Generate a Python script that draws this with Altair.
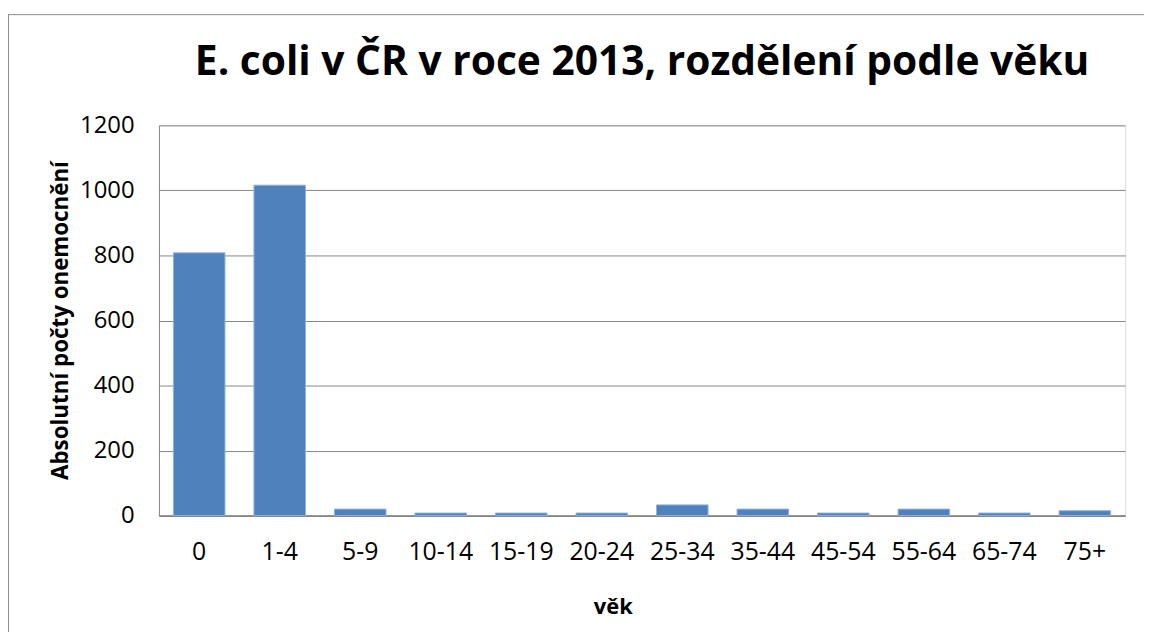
import altair as alt
import pandas as pd

ages = ["0", "1-4", "5-9", "10-14", "15-19", "20-24", "25-34", "35-44", "45-54", "55-64", "65-74", "75+"]
cases = [808, 1016, 20, 8, 8, 8, 33, 20, 8, 20, 8, 15]
y_ticks = [0, 200, 400, 600, 800, 1000, 1200]

title_text = "E. coli v ČR v roce 2013, rozdělení podle věku"
x_title = "věk"
y_title = "Absolutní počty onemocnění"

df = pd.DataFrame({"age": ages, "cases": cases})
FONT = "Open Sans"
GRAY = "#868686"

bars = alt.Chart(df).mark_bar(color="#4F81BD", stroke="#8fb1dc", strokeWidth=1).encode(
    x=alt.X("age:N", sort=ages, title=x_title,
            scale=alt.Scale(paddingInner=0.36, paddingOuter=0.18),
            axis=alt.Axis(labelAngle=0, ticks=False, tickSize=0, labelPadding=24,
                          labelFontSize=25, labelFont=FONT, labelColor="#000000",
                          domainColor=GRAY, domainWidth=2,
                          titleFont=FONT, titleFontSize=22, titleFontWeight="bold",
                          titleColor="#000000", titleX=457, titleY=99,
                          titleAlign="center", titleBaseline="alphabetic", grid=False)),
    y=alt.Y("cases:Q", title=y_title,
            scale=alt.Scale(domain=[0, 1200], nice=False),
            axis=alt.Axis(values=y_ticks, format="d", ticks=False, tickSize=0, labelPadding=25,
                          labelFontSize=24, labelFont=FONT, labelColor="#000000",
                          domainColor=GRAY, domainWidth=1,
                          gridColor=GRAY, gridWidth=1,
                          titleFont=FONT, titleFontSize=22.5, titleFontWeight="bold",
                          titleColor="#000000", titleX=-99, titleY=196, titleAngle=270,
                          titleAlign="center", titleBaseline="middle")),
)

frame_df = pd.DataFrame({"k": [0]})
frame_top = alt.Chart(frame_df).mark_rule(color="#8c8c8c", strokeWidth=1).encode(
    x=alt.value(-152), x2=alt.value(1100), y=alt.value(-111.5))
frame_left = alt.Chart(frame_df).mark_rule(color="#8c8c8c", strokeWidth=1).encode(
    x=alt.value(-151.5), y=alt.value(-112), y2=alt.value(600))

chart = alt.layer(frame_top, frame_left, bars).properties(
    width=973, height=393,
    title=alt.TitleParams(title_text, font=FONT, fontSize=41, fontWeight="bold",
                          color="#000000", anchor="middle", offset=0, dy=71),
    autosize=alt.AutoSizeParams(type="none"),
    padding={"left": 152, "top": 116, "right": 19, "bottom": 115},
).configure_view(stroke=None).configure(background="#ffffff")

chart.save("out.html", embed_options={"renderer": "svg", "actions": False})
